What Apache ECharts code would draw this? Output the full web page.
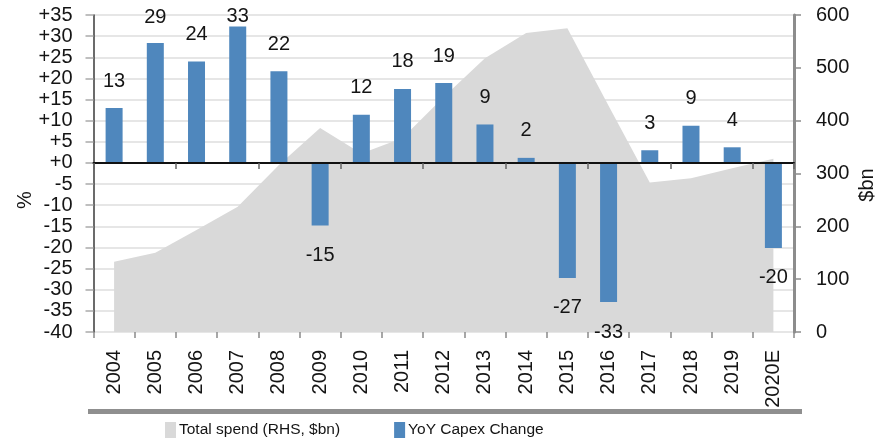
<!DOCTYPE html>
<html>
<head>
<meta charset="utf-8">
<script src="https://cdn.jsdelivr.net/npm/echarts@6/dist/echarts.min.js"></script>
<style>
html,body{margin:0;padding:0;background:#fff;}
#chart{width:887px;height:448px;}
</style>
</head>
<body>
<div id="chart"></div>
<script>
// ---- data ----
var categories = ['2004','2005','2006','2007','2008','2009','2010','2011','2012','2013','2014','2015','2016','2017','2018','2019','2020E'];
var totalSpend = [133, 150, 193, 237, 316, 386, 338, 367, 445, 518, 566, 575, 428, 283, 291, 310, 328];
var capexChange = [13.0, 28.4, 24.0, 32.3, 21.7, -14.8, 11.4, 17.5, 18.9, 9.1, 1.2, -27.2, -32.9, 3.0, 8.8, 3.7, -20.1];
var capexLabels = ['13','29','24','33','22','-15','12','18','19','9','2','-27','-33','3','9','4','-20'];
var seriesNames = ['Total spend (RHS, $bn)', 'YoY Capex Change'];
var leftAxisName = '%';
var rightAxisName = '$bn';

var FONT = '"Liberation Sans", Arial, sans-serif';
var TXT = '#141414';

var chart = echarts.init(document.getElementById('chart'), null, {renderer: 'canvas'});

function barData(distances) {
  return capexChange.map(function (v, i) {
    return {
      value: v,
      label: {
        position: v >= 0 ? 'top' : 'bottom',
        distance: distances ? distances[i] : (v >= 0 ? 17 : 20)
      }
    };
  });
}

var option = {
  animation: false,
  backgroundColor: '#ffffff',
  grid: {left: 93.5, right: 93, top: 15, bottom: 116, containLabel: false},
  legend: {
    left: 160, top: 417,
    itemWidth: 11, itemHeight: 16, itemGap: 54,
    textStyle: {fontFamily: FONT, fontSize: 15.5, color: TXT, padding: [0, 0, 0, -2]},
    data: [
      {name: seriesNames[0], icon: 'rect', itemStyle: {color: '#d9d9d9'}},
      {name: seriesNames[1], icon: 'rect', itemStyle: {color: '#4f87bd'}}
    ]
  },
  xAxis: [
    {
      type: 'category', data: categories, position: 'bottom', boundaryGap: true,
      axisLine: {show: false, onZero: false},
      axisTick: {show: true, length: 6, lineStyle: {color: '#8a8a8a', width: 1.5}},
      axisLabel: {rotate: 90, margin: 18, fontFamily: FONT, fontSize: 20, color: TXT, interval: 0},
      splitLine: {show: false}
    },
    {
      type: 'category', data: categories, position: 'bottom', boundaryGap: true, z: 10,
      axisLine: {show: true, onZero: true, onZeroAxisIndex: 0, lineStyle: {color: '#111', width: 2}},
      axisTick: {show: true, length: 6, lineStyle: {color: '#666', width: 1.5}},
      axisLabel: {show: false},
      splitLine: {show: false}
    }
  ],
  yAxis: [
    {
      type: 'value', min: -40, max: 35, interval: 5, position: 'left',
      axisLine: {show: true, lineStyle: {color: '#3a3a3a', width: 1.5}},
      axisTick: {show: true, length: 8, lineStyle: {color: '#aaaaaa', width: 1.5}},
      axisLabel: {margin: 21, fontFamily: FONT, fontSize: 20, color: TXT,
        formatter: function (v) { return v >= 0 ? '+' + v : String(v); }},
      splitLine: {show: true, lineStyle: {color: '#dedede', width: 1.5}}
    },
    {
      type: 'value', min: 0, max: 600, interval: 100, position: 'right',
      axisLine: {show: true, lineStyle: {color: '#8c8c8c', width: 3}},
      axisTick: {show: true, length: 7, lineStyle: {color: '#8c8c8c', width: 1.5}},
      axisLabel: {margin: 22, fontFamily: FONT, fontSize: 20, color: TXT},
      splitLine: {show: false}
    }
  ],
  graphic: [
    {type: 'text', x: 25, y: 200, rotation: Math.PI / 2,
      style: {text: leftAxisName, font: '20px ' + FONT, fill: TXT, textAlign: 'center', textVerticalAlign: 'middle'}},
    {type: 'text', x: 867, y: 185, rotation: Math.PI / 2,
      style: {text: rightAxisName, font: '20px ' + FONT, fill: TXT, textAlign: 'center', textVerticalAlign: 'middle'}},
    {type: 'rect', shape: {x: 88, y: 409, width: 714, height: 5}, style: {fill: '#8f8f8f'}}
  ],
  series: [
    {
      name: seriesNames[0], type: 'line', yAxisIndex: 1, xAxisIndex: 0,
      data: totalSpend, symbol: 'none', smooth: false,
      color: '#d9d9d9',
      lineStyle: {width: 0, color: '#d9d9d9'},
      areaStyle: {color: '#d9d9d9', opacity: 1},
      z: 1
    },
    {
      name: seriesNames[1], type: 'bar', yAxisIndex: 0, xAxisIndex: 0,
      data: barData(null), barWidth: 17,
      color: '#4f87bd',
      itemStyle: {color: '#4f87bd'},
      label: {
        show: true, fontFamily: FONT, fontSize: 20, color: TXT,
        formatter: function (p) { return capexLabels[p.dataIndex]; }
      },
      z: 3
    }
  ]
};
chart.setOption(option);

// keep positive labels inside the plot top
var topPx = chart.convertToPixel({yAxisIndex: 0}, 35);
var dists = capexChange.map(function (v) {
  if (v < 0) return 20;
  var barTop = chart.convertToPixel({yAxisIndex: 0}, v);
  var d = 17;
  var labelTop = barTop - d - 20;
  if (labelTop < topPx - 8) d = Math.max(0, barTop - (topPx - 8) - 20);
  return d;
});
chart.setOption({series: [{}, {data: barData(dists)}]});
</script>
</body>
</html>
